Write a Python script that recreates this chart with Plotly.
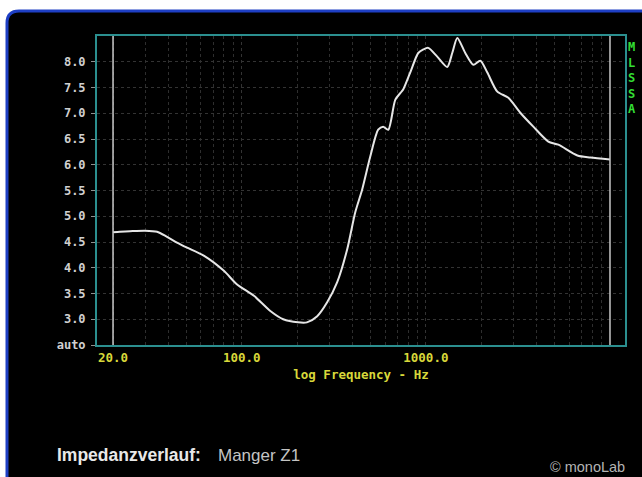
import plotly.graph_objects as go

# ---- data ----
freq_hz = [20, 21.8, 24.7, 29.8, 34.7, 39.3, 44.5, 50.5, 62.5, 80, 94, 117, 143, 168,
           202, 226, 257, 291, 330, 374, 413, 451, 499, 551, 586, 625, 682, 730, 753,
           822, 909, 970, 1030, 1153, 1307, 1391, 1482, 1637, 1810, 1976, 2157, 2443,
           2806, 3257, 3834, 4625, 5240, 6650, 7818, 10000]
impedance = [4.69, 4.70, 4.71, 4.72, 4.70, 4.60, 4.49, 4.39, 4.23, 3.94, 3.68, 3.45, 3.16, 3.00,
             2.94, 2.94, 3.06, 3.33, 3.72, 4.36, 5.07, 5.52, 6.16, 6.68, 6.74, 6.68, 7.26, 7.40, 7.46,
             7.79, 8.17, 8.24, 8.27, 8.10, 7.90, 8.17, 8.46, 8.17, 7.94, 8.02, 7.79, 7.42,
             7.30, 7.01, 6.74, 6.45, 6.39, 6.18, 6.14, 6.10]

x_tick_vals = [20, 100, 1000]
x_tick_text = ["20.0", "100.0", "1000.0"]
x_minor_vals = [30, 40, 50, 60, 70, 80, 90, 200, 300, 400, 500, 600, 700, 800, 900,
                2000, 3000, 4000, 5000, 6000, 7000, 8000, 9000]
y_tick_vals = [2.5, 3.0, 3.5, 4.0, 4.5, 5.0, 5.5, 6.0, 6.5, 7.0, 7.5, 8.0]
y_tick_text = ["auto", "3.0", "3.5", "4.0", "4.5", "5.0", "5.5", "6.0", "6.5", "7.0", "7.5", "8.0"]
f_start, f_end = 20, 10000

W, H = 642, 477
L, R, T, B = 97, 17, 36, 132
pw, ph = W - L - R, H - T - B

def px(x):
    return (x - L) / pw

def py(y):
    return (H - B - y) / ph

teal = "#2b8f8f"
mono = "DejaVu Sans Mono"

fig = go.Figure()
fig.add_trace(go.Scatter(
    x=freq_hz, y=impedance, mode="lines",
    line=dict(color="#e6e6e6", width=2, shape="spline", smoothing=0.7),
    hoverinfo="skip", showlegend=False))

# black rounded panel with blue border
x0, x1 = px(7), px(660)
y0, y1 = py(11), py(500)
rx, ry = 12 / pw, 12 / ph
path = (f"M {x0},{y1} L {x0},{y0 - ry} Q {x0},{y0} {x0 + rx},{y0} "
        f"L {x1},{y0} L {x1},{y1} Z")
fig.add_shape(type="path", path=path, xref="paper", yref="paper",
              fillcolor="black", line=dict(color="#1e3fc4", width=3), layer="below")

# end markers at start and end of sweep
for f in (f_start, f_end):
    fig.add_shape(type="line", xref="x", yref="paper", x0=f, x1=f, y0=0, y1=1,
                  line=dict(color="#c8c8c8", width=1.5), layer="above")

fig.update_layout(
    width=W, height=H,
    margin=dict(l=L, r=R, t=T, b=B, pad=0),
    paper_bgcolor="white", plot_bgcolor="black",
    showlegend=False,
    xaxis=dict(
        type="log", range=[1.214, 4.0815],
        tickvals=x_tick_vals, ticktext=[f"<b>{t}</b>" for t in x_tick_text],
        tickfont=dict(family=mono, size=12.5, color="#d8d83a"),
        showgrid=True, gridcolor="#333333", griddash="dot", gridwidth=1,
        minor=dict(tickvals=x_minor_vals, showgrid=True, gridcolor="#2e2e2e",
                   griddash="dot", gridwidth=1, ticks=""),
        showline=True, linecolor=teal, linewidth=2, mirror=True,
        ticks="", zeroline=False,
        title=dict(text="<b>log Frequency - Hz</b>",
                   font=dict(family=mono, size=12.5, color="#d8d83a"), standoff=6),
    ),
    yaxis=dict(
        range=[2.5, 8.5],
        tickvals=y_tick_vals, ticktext=[f"<b>{t}</b>" for t in y_tick_text],
        tickfont=dict(family=mono, size=12, color="#d0d0d0"),
        showgrid=True, gridcolor="#333333", griddash="dot", gridwidth=1,
        showline=True, linecolor=teal, linewidth=2, mirror=True,
        ticks="outside", ticklen=4, tickcolor="#909090", tickwidth=1,
        ticklabelstandoff=3, zeroline=False,
    ),
    annotations=[
        dict(text="<b>M<br>L<br>S<br>S<br>A</b>", xref="paper", yref="paper",
             x=px(632), y=py(78), xanchor="center", yanchor="middle",
             showarrow=False, font=dict(family=mono, size=12, color="#33dd33")),
        dict(text="<b>Impedanzverlauf:</b>", xref="paper", yref="paper",
             x=px(55), y=py(455), xanchor="left", yanchor="middle",
             showarrow=False, font=dict(family="Liberation Sans", size=17.5, color="#e8e8e8")),
        dict(text="Manger Z1", xref="paper", yref="paper",
             x=px(216), y=py(455), xanchor="left", yanchor="middle",
             showarrow=False, font=dict(family="Liberation Sans", size=17, color="#c4c4c4")),
        dict(text="© monoLab", xref="paper", yref="paper",
             x=px(627), y=py(467), xanchor="right", yanchor="middle",
             showarrow=False, font=dict(family="Liberation Sans", size=14.5, color="#b4b4b4")),
    ],
)

fig.write_html("out.html", config={"displayModeBar": False},
               post_script="document.body.style.margin='0';document.body.style.overflow='hidden';")
